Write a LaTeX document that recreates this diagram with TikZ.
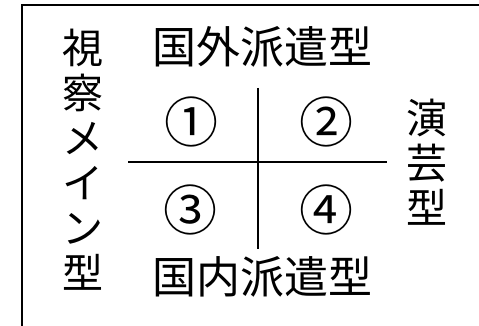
\documentclass[tikz,border=0pt]{standalone}
\usepackage{fontspec}
\newfontfamily\jp{Noto Sans CJK JP}
\begin{document}
\begin{tikzpicture}[x=1pt,y=-1pt,
  hlabel/.style={inner sep=0pt,font=\jp\fontsize{44}{45}\selectfont},
  vlabel/.style={inner sep=0pt,align=center,font=\jp\fontsize{41}{45}\selectfont},
  num/.style={inner sep=0pt,font=\jp\fontsize{54}{54}\selectfont},
  axis/.style={line width=2.2pt,black}]
\useasboundingbox (0,0) rectangle (479,326);
\clip (0,0) rectangle (479,326);
\draw[line width=2pt] (22,5) rectangle (520,360);
\node[hlabel] (top) at (262,47) {国外派遣型};
\node[hlabel] (bottom) at (262,277) {国内派遣型};
\node[vlabel] (left) at (83,160) {視\\察\\メ\\イ\\ン\\型};
\node[vlabel] (right) at (427,162) {演\\芸\\型};
\node[num] (n1) at (191,122) {①};
\node[num] (n2) at (326,122) {②};
\node[num] (n3) at (190,210) {③};
\node[num] (n4) at (326,210) {④};
\coordinate (hl) at (128,162);
\coordinate (hr) at (387,162);
\coordinate (vt) at (258,88);
\coordinate (vb) at (258,249);
\draw[axis] (hl) -- (hr);
\draw[axis] (vt) -- (vb);
\end{tikzpicture}
\end{document}
